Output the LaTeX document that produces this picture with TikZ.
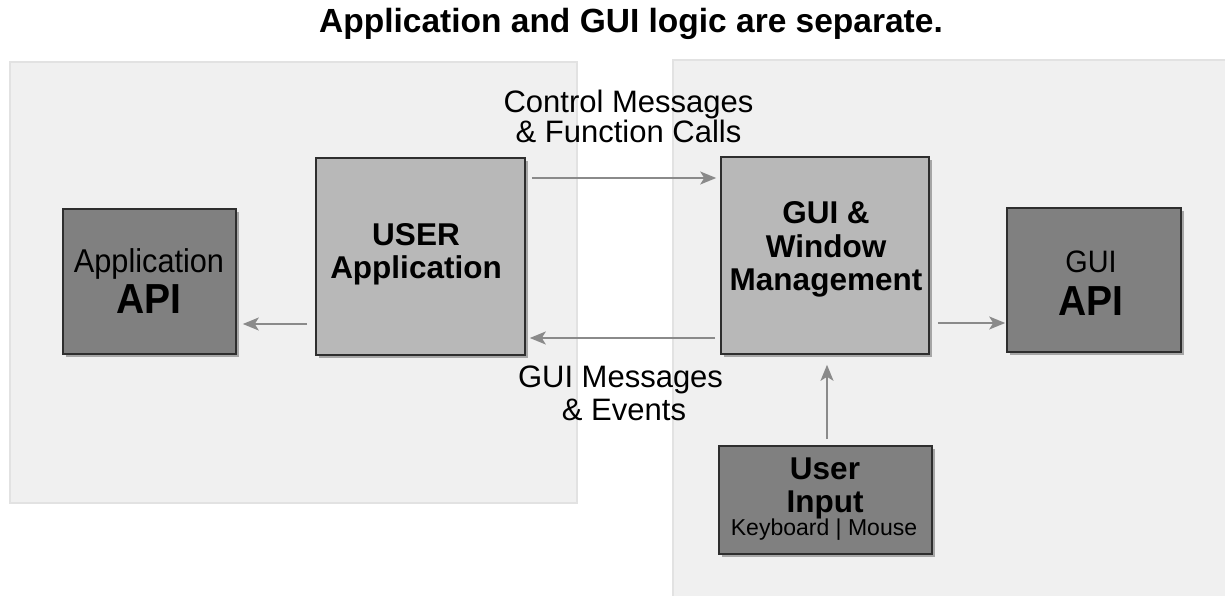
\documentclass[tikz,border=0pt]{standalone}
\usepackage{fontspec}
\setmainfont{Liberation Sans}
\usetikzlibrary{arrows.meta,shadows}
\definecolor{panelfill}{HTML}{F0F0F0}
\definecolor{panelline}{HTML}{E2E2E2}
\definecolor{darkfill}{HTML}{808080}
\definecolor{lightfill}{HTML}{B8B8B8}
\definecolor{boxline}{HTML}{2E2E2E}
\definecolor{arrowgray}{HTML}{8A8A8A}
\tikzset{
  panel/.style={fill=panelfill, draw=panelline, line width=1.5pt},
  boxbase/.style={draw=boxline, line width=1.6pt, inner sep=0pt,
    drop shadow={shadow xshift=3pt, shadow yshift=-3pt, opacity=0.45, fill=black!70}},
  darkbox/.style={boxbase, fill=darkfill},
  lightbox/.style={boxbase, fill=lightfill},
  lbl/.style={anchor=base, inner sep=0pt, font=\fontsize{31}{33}\selectfont},
  boldlbl/.style={anchor=base, inner sep=0pt, font=\fontsize{31.5}{33}\selectfont\bfseries},
  narrow/.style={xscale=0.93, transform shape},
  apilbl/.style={anchor=base, inner sep=0pt, narrow, font=\fontsize{42}{42}\selectfont\bfseries},
  arr/.style={draw=arrowgray, line width=1.7pt,
    -{Stealth[length=16pt, width=13pt, inset=4pt]}}
}
\begin{document}
\begin{tikzpicture}[x=1pt, y=-1pt]
\useasboundingbox (0,0) rectangle (1225,596);
\fill[white] (0,0) rectangle (1225,596);
% background panels
\draw[panel] (10,62) rectangle (577,503);
\draw[panel] (673,60) rectangle (1230,600);
% title
\node[anchor=base, inner sep=0pt, font=\fontsize{33.5}{36}\selectfont\bfseries] (title) at (631,33) {Application and GUI logic are separate.};
% boxes
\node[darkbox, minimum width=173pt, minimum height=145pt] (appapi) at (149.5,281.5) {};
\node[lightbox, minimum width=209pt, minimum height=197pt] (userapp) at (420.5,256.5) {};
\node[lightbox, minimum width=208pt, minimum height=197pt] (gui) at (825,255.5) {};
\node[darkbox, minimum width=174pt, minimum height=144pt] (guiapi) at (1094,280) {};
\node[darkbox, minimum width=213pt, minimum height=108pt] (userinput) at (825.5,500) {};
% box texts
\node[lbl, narrow, font=\fontsize{33}{33}\selectfont] (appapi1) at (149,272) {Application};
\node[apilbl] (appapi2) at (149,313) {API};
\node[boldlbl] (userapp1) at (416,245) {USER};
\node[boldlbl] (userapp2) at (416,278) {Application};
\node[boldlbl] (gui1) at (826,223) {GUI \&};
\node[boldlbl] (gui2) at (826,257) {Window};
\node[boldlbl] (gui3) at (826,290) {Management};
\node[lbl, narrow, font=\fontsize{31}{31}\selectfont] (guiapi1) at (1091,272) {GUI};
\node[apilbl] (guiapi2) at (1091,315) {API};
\node[boldlbl] (ui1) at (825,479) {User};
\node[boldlbl] (ui2) at (825,512) {Input};
\node[anchor=base, inner sep=0pt, font=\fontsize{23}{23}\selectfont] (ui3) at (824,535) {Keyboard | Mouse};
% connector labels
\node[lbl] (ctrl1) at (628.5,113) {Control Messages};
\node[lbl] (ctrl2) at (628.5,143) {\& Function Calls};
\node[lbl] (guimsg1) at (620.5,387) {GUI Messages};
\node[lbl] (guimsg2) at (624,420) {\& Events};
% connectors
\draw[arr, shorten <=6pt, shorten >=4pt] (userapp.east |- 0,178) -- (gui.west |- 0,178);
\draw[arr, shorten <=5pt, shorten >=4pt] (gui.west |- 0,338) -- (userapp.east |- 0,338);
\draw[arr, shorten <=8pt, shorten >=6pt] (userapp.west |- 0,324) -- (appapi.east |- 0,324);
\draw[arr, shorten <=8pt, shorten >=1pt] (gui.east |- 0,323) -- (guiapi.west |- 0,323);
\draw[arr, shorten <=6pt, shorten >=10pt] (userinput.north -| 827,0) -- (gui.south -| 827,0);
\end{tikzpicture}
\end{document}
